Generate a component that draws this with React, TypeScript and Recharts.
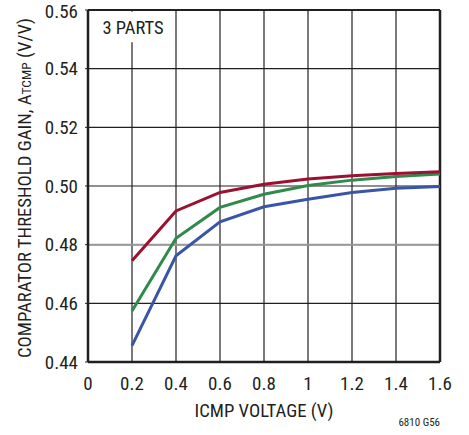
import React from 'react';
import {
  LineChart, Line, XAxis, YAxis, CartesianGrid, ReferenceArea, ReferenceLine,
} from 'recharts';

const icmpVoltage = [0.2, 0.4, 0.6, 0.8, 1.0, 1.2, 1.4, 1.6];
const partA = [0.4745, 0.4915, 0.4978, 0.5006, 0.5024, 0.5035, 0.5043, 0.5049];
const partB = [0.4574, 0.4822, 0.4927, 0.4972, 0.5002, 0.502, 0.5032, 0.5041];
const partC = [0.4456, 0.4762, 0.4878, 0.4929, 0.4955, 0.4978, 0.4992, 0.4998];

const xTicks = [0, 0.2, 0.4, 0.6, 0.8, 1, 1.2, 1.4, 1.6];
const yTicks = [0.44, 0.46, 0.48, 0.5, 0.52, 0.54, 0.56];

const data = icmpVoltage.map((v, i) => ({
  v,
  a: partA[i],
  b: partB[i],
  c: partC[i],
}));

const FONT = '"Liberation Sans Narrow", "Arial Narrow", "Roboto Condensed", sans-serif';

const YLabel = () => (
  <text
    x={0}
    y={0}
    transform="translate(31, 188) rotate(-90)"
    textAnchor="middle"
    fontFamily={FONT}
    fontSize={18.7}
    fill="#231f20"
  >
    COMPARATOR THRESHOLD GAIN, A
    <tspan fontSize={13.5}>TCMP</tspan>
    <tspan> (V/V)</tspan>
  </text>
);

const fmtX = (v: number) => (v === 0 || v === 1 ? String(v) : v.toFixed(1));

const App: React.FC = () => {
  return (
    <div style={{ position: 'absolute', left: 0, top: 0, width: 469, height: 435, background: '#fff' }}>
      <LineChart
        width={469}
        height={435}
        data={data}
        margin={{ top: 10, right: 29, bottom: 43, left: 0 }}
        style={{ fontFamily: FONT }}
      >
        <CartesianGrid stroke="#231f20" strokeWidth={1.2} />
        <ReferenceLine y={0.48} stroke="#9a9a9a" strokeWidth={2} />
        <ReferenceArea
          x1={0.05}
          x2={0.36}
          y1={0.549}
          y2={0.5594}
          fill="#fff"
          fillOpacity={1}
          stroke="none"
          label={{ value: '3 PARTS', position: 'center', fontSize: 18.5, fill: '#231f20', fontFamily: FONT }}
        />
        <XAxis
          dataKey="v"
          type="number"
          domain={[0, 1.6]}
          ticks={xTicks}
          tickFormatter={fmtX}
          axisLine={{ stroke: '#231f20', strokeWidth: 2.5 }}
          tickLine={false}
          tick={{ fill: '#231f20', fontSize: 19 }}
          tickMargin={9}
          height={30}
          label={{ value: 'ICMP VOLTAGE (V)', position: 'insideBottom', offset: -25, fontSize: 18.7, fill: '#231f20' }}
        />
        <YAxis
          type="number"
          domain={[0.44, 0.56]}
          ticks={yTicks}
          tickFormatter={(v: number) => v.toFixed(2)}
          axisLine={{ stroke: '#231f20', strokeWidth: 2.5 }}
          tickLine={{ stroke: '#231f20' }}
          tickSize={3}
          tick={{ fill: '#231f20', fontSize: 19 }}
          tickMargin={7}
          width={88}
          label={<YLabel />}
        />
        <ReferenceLine x={1.6} stroke="#231f20" strokeWidth={2.5} />
        <ReferenceLine y={0.56} stroke="#231f20" strokeWidth={2} />
        <Line type="linear" dataKey="c" stroke="#3b55a6" strokeWidth={3} dot={false} isAnimationActive={false} />
        <Line type="linear" dataKey="b" stroke="#2f8a4c" strokeWidth={3} dot={false} isAnimationActive={false} />
        <Line type="linear" dataKey="a" stroke="#9c1131" strokeWidth={3} dot={false} isAnimationActive={false} />
      </LineChart>
      <div
        style={{
          position: 'absolute',
          right: 29,
          top: 416,
          fontFamily: FONT,
          fontSize: 11,
          color: '#231f20',
        }}
      >
        6810 G56
      </div>
    </div>
  );
};

export default App;
